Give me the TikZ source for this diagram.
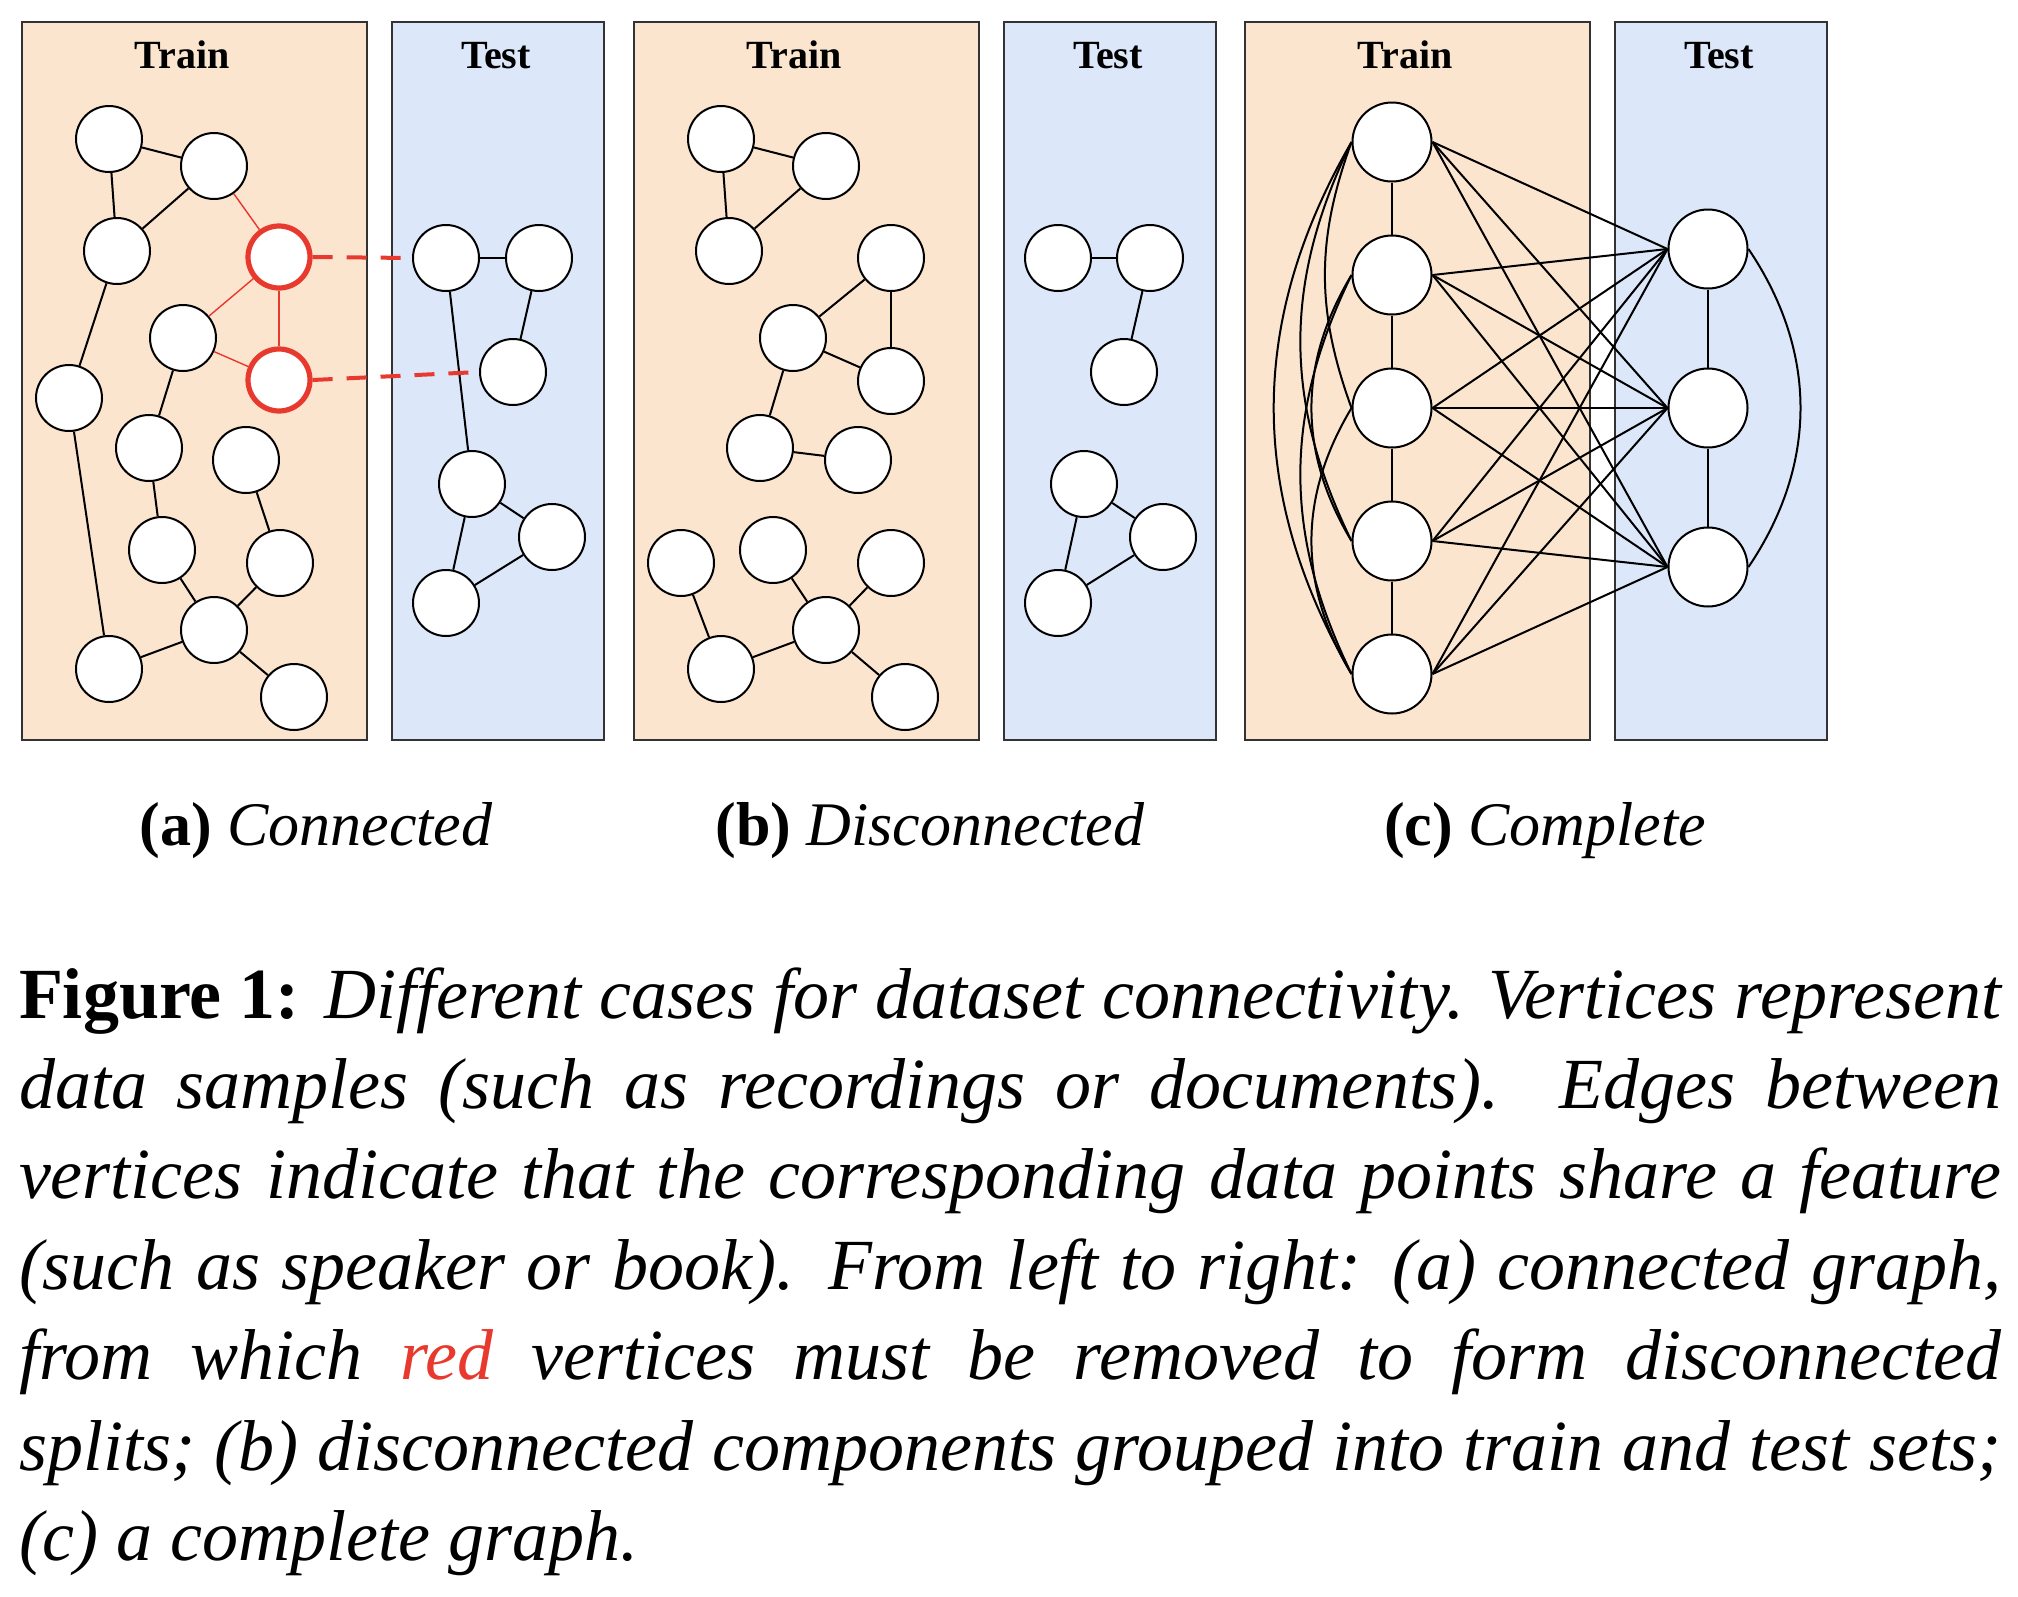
\documentclass[tikz,border=0pt]{standalone}
\usepackage{fontspec}
\setmainfont{Liberation Serif}
\usetikzlibrary{positioning}
\definecolor{trainfill}{HTML}{FBE5CE}
\definecolor{testfill}{HTML}{DCE7F9}
\definecolor{cutred}{HTML}{E8392E}

\begin{document}
\begin{tikzpicture}[x=0.5pt, y=-0.5pt, line width=1pt]
		\tikzstyle{trainbox}=[draw=black!80, fill=trainfill, line width=1pt]
		\tikzstyle{testbox}=[draw=black!80, fill=testfill, line width=1pt]
		\tikzstyle{title}=[font=\fontsize{20}{24}\selectfont\bfseries, anchor=base]
		\tikzstyle{vertex}=[circle, draw=black, fill=white, line width=1pt, inner sep=0pt, minimum size=33pt]
		\tikzstyle{bigvertex}=[vertex, minimum size=39.5pt]
		\tikzstyle{cut}=[vertex, draw=cutred, line width=2.6pt, minimum size=31pt]
		\tikzstyle{cutedge}=[draw=cutred, line width=0.7pt]
		\tikzstyle{leak}=[draw=cutred, line width=2pt, dash pattern=on 10pt off 7pt]
		\tikzstyle{sub}=[font=\fontsize{31}{37}\selectfont, anchor=base]
		\useasboundingbox (0,0) rectangle (2018,1596);
		% panels
		\foreach \dx in {0,612,1223} {
			\draw[trainbox] (22+\dx,22) rectangle (367+\dx,740);
			\draw[testbox] (392+\dx,22) rectangle (604+\dx,740);
			\node[title] (train\dx) at (182+\dx,68) {Train};
			\node[title] (test\dx) at (496+\dx,68) {Test};
		}
		% (a) connected
		\node[vertex] (a1)  at (109,139) {};
		\node[vertex] (a2)  at (214,166) {};
		\node[vertex] (a3)  at (117,251) {};
		\node[cut]    (a4)  at (279,257) {};
		\node[vertex] (a5)  at (183,338) {};
		\node[cut]    (a6)  at (279,380) {};
		\node[vertex] (a7)  at (69,398) {};
		\node[vertex] (a8)  at (149,448) {};
		\node[vertex] (a9)  at (246,460) {};
		\node[vertex] (a10) at (162,550) {};
		\node[vertex] (a11) at (280,563) {};
		\node[vertex] (a12) at (214,630) {};
		\node[vertex] (a13) at (109,669) {};
		\node[vertex] (a14) at (294,697) {};
		\node[vertex] (at1) at (446,258) {};
		\node[vertex] (at2) at (539,258) {};
		\node[vertex] (at3) at (513,372) {};
		\node[vertex] (at4) at (472,484) {};
		\node[vertex] (at5) at (552,537) {};
		\node[vertex] (at6) at (446,603) {};
		\foreach \u/\v in {a1/a2, a1/a3, a2/a3, a3/a7, a5/a8, a7/a13, a8/a10, a10/a12,
			a9/a11, a11/a12, a12/a13, a12/a14, at1/at2, at2/at3, at1/at4, at4/at5, at4/at6, at5/at6}
			\draw (\u) -- (\v);
		\foreach \u/\v in {a2/a4, a4/a5, a4/a6, a5/a6}
			\draw[cutedge] (\u) -- (\v);
		\draw[leak] (a4.east) -- (at1.west);
		\draw[leak] (a6.east) -- (at3.west);
		% (b) disconnected
		\node[vertex] (b1)  at (721,139) {};
		\node[vertex] (b2)  at (826,166) {};
		\node[vertex] (b3)  at (729,251) {};
		\node[vertex] (b4)  at (891,258) {};
		\node[vertex] (b5)  at (793,338) {};
		\node[vertex] (b6)  at (891,381) {};
		\node[vertex] (b7)  at (760,448) {};
		\node[vertex] (b8)  at (858,460) {};
		\node[vertex] (b9)  at (681,563) {};
		\node[vertex] (b10) at (773,550) {};
		\node[vertex] (b11) at (891,563) {};
		\node[vertex] (b12) at (826,630) {};
		\node[vertex] (b13) at (721,669) {};
		\node[vertex] (b14) at (905,697) {};
		\node[vertex] (bt1) at (1058,258) {};
		\node[vertex] (bt2) at (1150,258) {};
		\node[vertex] (bt3) at (1124,372) {};
		\node[vertex] (bt4) at (1084,484) {};
		\node[vertex] (bt5) at (1163,537) {};
		\node[vertex] (bt6) at (1058,603) {};
		\foreach \u/\v in {b1/b2, b1/b3, b2/b3, b4/b5, b4/b6, b5/b6, b5/b7, b7/b8,
			b9/b13, b10/b12, b11/b12, b12/b13, b12/b14, bt1/bt2, bt2/bt3, bt4/bt5, bt4/bt6, bt5/bt6}
			\draw (\u) -- (\v);
		% (c) complete
		\node[bigvertex] (c1) at (1392,142) {};
		\node[bigvertex, below of=c1, node distance=66.5pt] (c2) {};
		\node[bigvertex, below of=c2, node distance=66.5pt] (c3) {};
		\node[bigvertex, below of=c3, node distance=66.5pt] (c4) {};
		\node[bigvertex, below of=c4, node distance=66.5pt] (c5) {};
		\node[bigvertex] (ct1) at (1708,249) {};
		\node[bigvertex, below of=ct1, node distance=79.5pt] (ct2) {};
		\node[bigvertex, below of=ct2, node distance=79.5pt] (ct3) {};
		\draw (c1) -- (c2) -- (c3) -- (c4) -- (c5);
		\draw (ct1) -- (ct2) -- (ct3);
		\foreach \i/\j/\b in {1/3/20, 2/4/31, 3/5/31, 1/4/26, 2/5/26, 1/5/30}
			\draw (c\i.west) to[bend right=\b] (c\j.west);
		\draw (ct1.east) to[bend left=34] (ct3.east);
		\foreach \i in {1,...,5}
			\foreach \j in {1,2,3}
				\draw (c\i.east) -- (ct\j.west);
		% captions
		\node[sub] (capa) at (316,845) {\textbf{(a)} \textit{Connected}};
		\node[sub] (capb) at (930,845) {\textbf{(b)} \textit{Disconnected}};
		\node[sub] (capc) at (1545,845) {\textbf{(c)} \textit{Complete}};
		\node[anchor=base west, text width=991pt, align=justify, inner sep=0pt,
			font=\fontsize{36}{45.2}\selectfont] (caption) at (18,1018)
			{\textbf{Figure 1:} \textit{Different cases for dataset connectivity. Vertices represent\linebreak
			data samples (such as recordings or documents). Edges between\linebreak
			vertices indicate that the corresponding data points share a feature\linebreak
			(such as speaker or book). From left to right: (a) connected graph,\linebreak
			from which \textcolor{cutred}{red} vertices must be removed to form disconnected\linebreak
			splits; (b) disconnected components grouped into train and test sets;\linebreak
			(c) a complete graph.}};
	\end{tikzpicture}
\end{document}
